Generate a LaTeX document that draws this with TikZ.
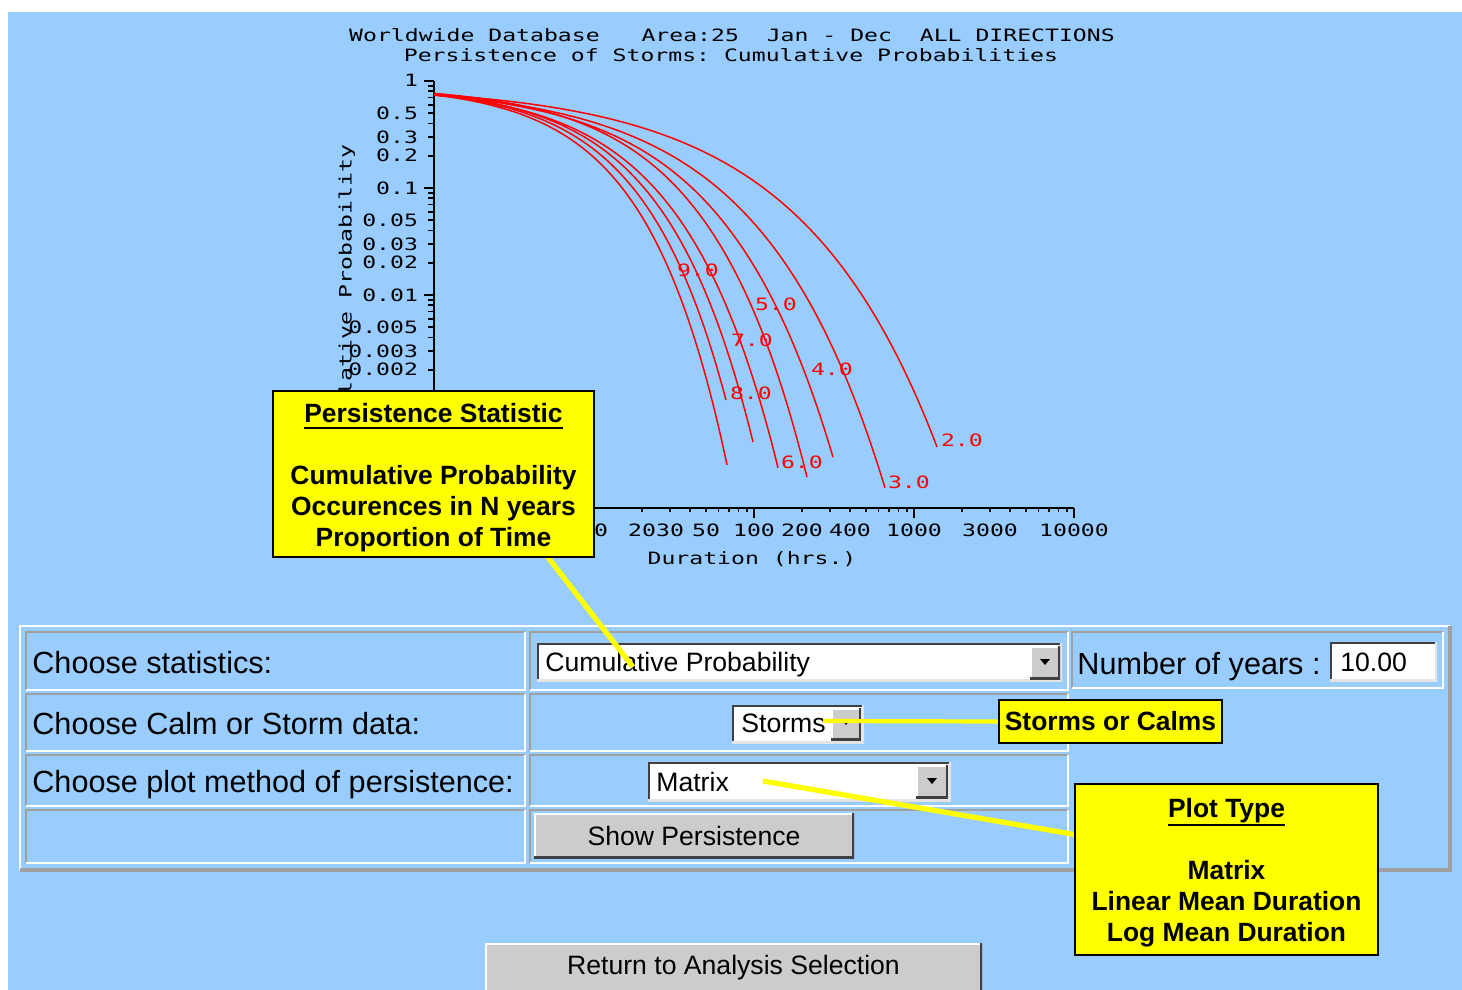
\documentclass[tikz,border=0pt]{standalone}
\usepackage{fontspec}
\setmainfont{Liberation Sans}
\newfontfamily\pixfont[FakeStretch=1.36]{DejaVu Sans Mono}
\definecolor{bgblue}{HTML}{99CCFF}
\definecolor{btngray}{HTML}{CCCCCC}
\definecolor{edgegray}{HTML}{A0A0A0}
\definecolor{darkedge}{HTML}{404040}
\definecolor{lightedge}{HTML}{E4E4E4}
\definecolor{callyellow}{HTML}{FFFF00}
\definecolor{curvered}{HTML}{FF0000}
\pgfdeclarelayer{front}
\pgfsetlayers{main,front}
\frenchspacing
\tikzset{
  pix/.style={font=\pixfont\fontsize{8.5pt}{10pt}\selectfont, inner sep=0pt, outer sep=0pt},
  formlabel/.style={font=\fontsize{15.3pt}{18pt}\selectfont, inner sep=0pt, anchor=base west},
  formtext/.style={font=\fontsize{13.3pt}{16pt}\selectfont, inner sep=0pt, anchor=base west},
  callfont/.style={font=\bfseries\fontsize{13.2pt}{15.5pt}\selectfont, inner sep=0pt, outer sep=0pt, anchor=base},
  axisline/.style={black, line width=1pt},
  tickline/.style={black, line width=0.9pt},
  curve/.style={curvered, line width=0.75pt},
  bevel/.style 2 args={path picture={
      \draw[line width=2.2pt,#1] (path picture bounding box.south west) -- (path picture bounding box.north west) -- (path picture bounding box.north east);
      \draw[line width=2.2pt,#2] (path picture bounding box.south west) -- (path picture bounding box.south east) -- (path picture bounding box.north east);}},
  field/.style={fill=white, anchor=north west, inner sep=0pt, outer sep=0pt, bevel={darkedge}{lightedge}},
  button/.style={fill=btngray, anchor=north west, inner sep=0pt, outer sep=0pt, bevel={white}{darkedge}, font=\fontsize{13.3pt}{16pt}\selectfont},
  callout/.style={fill=callyellow, draw=black, line width=1pt, anchor=north west, inner sep=0pt, outer sep=0pt},
  callline/.style={callyellow, line width=2.6pt},
  sunkenlo/.style={edgegray, line width=1pt},
  sunkenhi/.style={white, line width=1pt},
}
\begin{document}
\begin{tikzpicture}[x=0.5pt,y=-0.5pt]
\useasboundingbox (0,0) rectangle (1462,990);
\fill[white] (0,0) rectangle (1462,990);
\fill[bgblue] (8,12) rectangle (1462,990);

% ---------- titles ----------
\node[pix, anchor=base] (title1) at (732,42) {Worldwide Database~~~Area:25~~Jan - Dec~~ALL DIRECTIONS};
\node[pix, anchor=base] (title2) at (731,62) {Persistence of Storms: Cumulative Probabilities};

% ---------- axes ----------
\draw[axisline] (434,81) -- (434,508) -- (1074,508);
\foreach \d in {0,...,3} {
  \draw[tickline] (424,{81+107*\d}) -- (434,{81+107*\d});
  \foreach \m in {2,...,9}
    \draw[tickline] (428,{81+107*(\d+1)-46.469*ln(\m)}) -- (434,{81+107*(\d+1)-46.469*ln(\m)});
}
\foreach \d in {0,...,4}
  \draw[tickline] ({434+160*\d},508) -- ({434+160*\d},518);
\foreach \d in {0,...,3}
  \foreach \m in {2,...,9}
    \draw[tickline] ({434+160*\d+69.487*ln(\m)},508) -- ++(0,4);

\foreach \v/\yy [count=\i] in {1/81, 0.5/113.2, 0.3/137, 0.2/155.8, 0.1/188, 0.05/220.2, 0.03/244, 0.02/262.8, 0.01/295, 0.005/327.2, 0.003/351, 0.002/369.8}
  \node[pix, anchor=base east] (ylab\i) at (418,{\yy+6}) {\v};
\foreach \v/\xx [count=\i] in {10/594, 20/642, 30/670, 50/706, 100/754, 200/802, 400/850, 1000/914, 3000/990, 10000/1074}
  \node[pix, anchor=base] (xlab\i) at (\xx,536) {\v};
\node[pix, rotate=90, anchor=east] (ytitle) at (347,145) {Cumulative Probability};
\node[pix, anchor=base] (xtitle) at (752,564) {Duration (hrs.)};

% ---------- curves ----------
\foreach \xa/\xb/\kk in {820/937/0.007248, 768/885/0.008167, 737/833/0.009120, 717/807/0.010309, 693/778/0.010642, 680/753/0.011427, 667/726/0.012020, 655/727/0.012456}
  \draw[curve] plot[domain=434:\xb, samples=100, smooth] (\x,{85+155*exp(\kk*(\x-\xa))});
\foreach \t/\lx/\ly [count=\i] in {9.0/677/270, 5.0/755/304, 7.0/731/340, 4.0/811/369, 8.0/730/393, 6.0/781/462, 3.0/888/482, 2.0/941/440}
  \node[pix, text=curvered, anchor=base west] (clab\i) at (\lx,{\ly+6}) {\t};

% ---------- form table ----------
\draw[white, line width=1.2pt] (20,870) -- (20,626) -- (1450,626);
\draw[edgegray, line width=1.6pt] (20,870) -- (1450,870) -- (1450,626);
\foreach \xa/\ya/\xb/\yb in {26/632/525/690, 530/632/1068/690, 1072/632/1443/688, 26/694/525/751, 530/694/1068/751, 26/755/525/806, 530/755/1068/806, 26/810/525/863, 530/810/1068/863} {
  \draw[sunkenlo] (\xa,\yb) -- (\xa,\ya) -- (\xb,\ya);
  \draw[sunkenhi] (\xa,\yb) -- (\xb,\yb) -- (\xb,\ya);
}
\node[formlabel] (lblStat) at (32,673) {Choose statistics:};
\node[formlabel] (lblData) at (32,734) {Choose Calm or Storm data:};
\node[formlabel] (lblPlot) at (32,792) {Choose plot method of persistence:};
\node[formlabel] (lblYears) at (1077,674) {Number of years :};

\node[field, minimum width=262.5pt, minimum height=19pt] (statField) at (537,643) {};
\node[formtext] (statText) at (545,671.5) {Cumulative Probability};
\node[button, minimum width=15pt, minimum height=16.5pt] (statBtn) at (1030,646) {};
\fill[black] (1040,659) -- (1050,659) -- (1045,665) -- cycle;

\node[field, minimum width=53.5pt, minimum height=19.5pt] (yearsField) at (1330,642) {};
\node[formtext] (yearsText) at (1340,671.5) {10.00};

\node[field, minimum width=66pt, minimum height=19pt] (stormField) at (732,705) {};
\node[formtext] (stormText) at (741,732.5) {Storms};
\node[button, minimum width=15pt, minimum height=16pt] (stormBtn) at (831,708) {};
\fill[black] (842,720) -- (850,720) -- (846,725) -- cycle;

\node[field, minimum width=151.5pt, minimum height=19.5pt] (plotField) at (648,762) {};
\node[formtext] (plotText) at (656,791.5) {Matrix};
\node[button, minimum width=16pt, minimum height=16.5pt] (plotBtn) at (916,765) {};
\fill[black] (927,778) -- (937,778) -- (932,784) -- cycle;

\node[button, minimum width=160pt, minimum height=22.5pt] (showBtn) at (534,813) {Show Persistence};
\node[button, minimum width=248.5pt, minimum height=24.5pt] (returnBtn) at (485,943) {Return to Analysis Selection};

% ---------- callouts ----------
\begin{pgfonlayer}{front}
\node[callout, minimum width=160.5pt, minimum height=83pt] (psBox) at (273,391) {};
\node[callfont] (psHead) at (433.5,422.5) {Persistence Statistic};
\draw[black, line width=1pt] ([yshift=-2.5pt]psHead.south west) -- ([yshift=-2.5pt]psHead.south east);
\node[callfont] (psL1) at (433.5,484.5) {Cumulative Probability};
\node[callfont] (psL2) at (433.5,515.5) {Occurences in N years};
\node[callfont] (psL3) at (433.5,546.5) {Proportion of Time};

\node[callout, minimum width=111.5pt, minimum height=21.5pt, font=\bfseries\fontsize{13.2pt}{15.5pt}\selectfont] (scBox) at (999,700) {Storms or Calms};

\node[callout, minimum width=151.5pt, minimum height=85.5pt] (ptBox) at (1075,784) {};
\node[callfont] (ptHead) at (1226.5,817) {Plot Type};
\draw[black, line width=1pt] ([yshift=-1.3pt]ptHead.south west) -- ([yshift=-1.3pt]ptHead.south east);
\node[callfont] (ptL1) at (1226.5,879.5) {Matrix};
\node[callfont] (ptL2) at (1226.5,910.5) {Linear Mean Duration};
\node[callfont] (ptL3) at (1226.5,941.5) {Log Mean Duration};
\end{pgfonlayer}

\coordinate (psTip) at (633,667);
\coordinate (scTip) at (823,721);
\coordinate (ptTip) at (763,781);
\draw[callline] (psBox.-36.7) -- (psTip);
\draw[callline, line width=2.1pt] (scBox.west) -- (scTip);
\draw[callline] (ptBox.167.5) -- (ptTip);
\end{tikzpicture}
\end{document}
